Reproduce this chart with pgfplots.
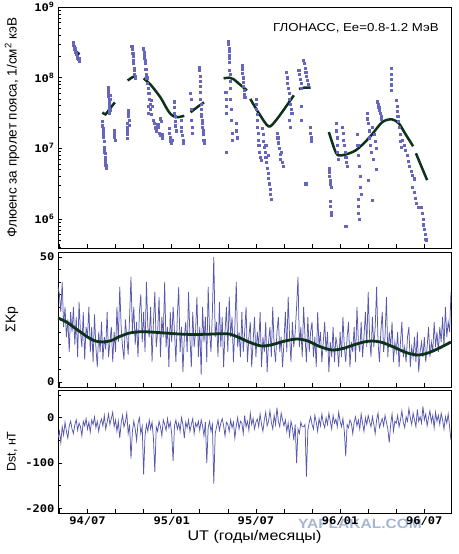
\documentclass[border=0pt]{standalone}
\usepackage{fontspec}
\setmainfont{Liberation Sans}
\newfontfamily\hfont[FakeStretch=1.15]{Liberation Sans}
\newfontfamily\tickfont[FakeStretch=1.15]{DejaVu Sans Mono}
\usepackage{pgfplots}
\usepackage{pgfplotstable}
\pgfplotsset{compat=1.18}

\definecolor{pts}{RGB}{102,102,190}
\definecolor{noisy}{RGB}{88,88,175}
\definecolor{fit}{RGB}{12,50,26}
\definecolor{wm}{RGB}{165,182,212}

% month index counted from 1994/01 (6 = 94/07, 12 = 95/01, ...)
% ΣKp and Dst, read every ~3 days
\pgfplotstableread{
m kp dst
3.9 38 -45
4.0 35 -30
4.1 28 -55
4.2 40 -20
4.3 22 -38
4.4 30 -10
4.5 18 -30
4.6 25 -45
4.7 12 -18
4.8 28 -8
4.9 20 -25
5.0 30 -35
5.1 15 -15
5.2 26 -5
5.3 10 -28
5.4 32 -12
5.5 20 -20
5.6 14 -40
5.7 28 -8
5.8 9 -18
5.9 22 -2
6.0 18 -25
6.1 30 -10
6.2 12 -32
6.3 22 -5
6.4 8 -15
6.5 27 2
6.6 14 -22
6.7 6 -8
6.8 20 -30
6.9 12 -12
7.0 24 -3
7.1 9 -18
7.2 18 5
7.3 13 -25
7.4 28 -10
7.5 10 8
7.6 16 -15
7.7 22 -2
7.8 8 12
7.9 20 -20
8.0 12 -5
8.1 30 -30
8.2 16 -8
8.3 38 -45
8.4 22 -12
8.5 14 5
8.6 9 -20
8.7 25 -10
8.8 18 10
8.9 11 -35
9.0 26 -15
9.1 42 -90
9.2 20 -30
9.3 30 -8
9.4 15 -25
9.5 24 -50
9.6 10 -12
9.7 28 0
9.8 35 -35
9.9 16 -20
10.0 28 -125
10.1 12 -40
10.2 40 -15
10.3 22 -30
10.4 18 -5
10.5 30 -25
10.6 8 -10
10.7 24 -45
10.8 36 -120
10.9 14 -20
11.0 20 -30
11.1 34 -8
11.2 10 -20
11.3 26 -40
11.4 18 -5
11.5 40 -15
11.6 14 -28
11.7 22 -2
11.8 6 -22
11.9 28 -10
12.0 16 -35
12.1 30 -95
12.2 20 -18
12.3 8 -5
12.4 26 -25
12.5 38 -12
12.6 12 -30
12.7 22 0
12.8 4 -15
12.9 18 -45
13.0 24 -10
13.1 12 -22
13.2 36 -5
13.3 18 -30
13.4 6 -15
13.5 28 -2
13.6 14 -35
13.7 20 -12
13.8 34 -20
13.9 10 -8
14.0 22 -28
14.1 3 -5
14.2 30 -18
14.3 16 -40
14.4 26 -10
14.5 8 -100
14.6 38 -22
14.7 20 -8
14.8 12 -30
14.9 28 -15
15.0 50 -145
15.1 18 -35
15.2 24 -20
15.3 10 -5
15.4 32 -28
15.5 14 -12
15.6 26 -2
15.7 6 -18
15.8 20 -40
15.9 30 -10
16.0 12 -15
16.1 34 -30
16.2 18 -5
16.3 26 -22
16.4 8 -10
16.5 22 -45
16.6 40 -18
16.7 14 0
16.8 20 -25
16.9 10 -8
17.0 28 -12
17.1 12 -35
17.2 20 5
17.3 30 -20
17.4 8 -8
17.5 18 -28
17.6 24 10
17.7 6 -15
17.8 16 -2
17.9 26 -25
18.0 10 -10
18.1 20 -3
18.2 14 -20
18.3 28 8
18.4 6 -15
18.5 18 -30
18.6 12 -5
18.7 24 12
18.8 4 -18
18.9 16 -8
19.0 22 15
19.1 10 -10
19.2 30 -25
19.3 14 5
19.4 8 -15
19.5 20 22
19.6 26 -8
19.7 12 -20
19.8 18 10
19.9 6 -5
20.0 16 -18
20.1 28 -5
20.2 12 -30
20.3 34 -12
20.4 18 -40
20.5 8 -8
20.6 24 -22
20.7 14 -50
20.8 20 -15
20.9 30 -100
21.0 42 -25
21.1 14 -35
21.2 22 -10
21.3 10 -20
21.4 30 -20
21.5 18 -15
21.6 8 -130
21.7 26 -28
21.8 12 -10
21.9 20 2
22.0 24 -15
22.1 10 -25
22.2 18 5
22.3 6 -10
22.4 28 -30
22.5 14 -2
22.6 20 -18
22.7 8 8
22.8 16 -12
22.9 24 -22
23.0 12 0
23.1 20 -15
23.2 4 10
23.3 16 -8
23.4 10 -25
23.5 22 5
23.6 8 -12
23.7 18 -3
23.8 14 -20
23.9 6 12
24.0 20 -8
24.1 10 -20
24.2 26 -2
24.3 14 -30
24.4 8 -85
24.5 18 -15
24.6 24 -22
24.7 6 -5
24.8 16 -12
24.9 12 -35
25.0 22 -10
25.1 8 2
25.2 30 -18
25.3 16 -5
25.4 12 -25
25.5 24 8
25.6 10 -12
25.7 18 -30
25.8 28 0
25.9 14 -15
26.0 36 5
26.1 18 -8
26.2 10 -20
26.3 26 2
26.4 14 -15
26.5 22 -35
26.6 38 -5
26.7 16 10
26.8 8 -22
26.9 20 -12
27.0 28 -2
27.1 12 -18
27.2 18 5
27.3 34 -10
27.4 10 -25
27.5 20 -55
27.6 14 -15
27.7 24 8
27.8 8 -30
27.9 16 -8
28.0 12 -12
28.1 20 5
28.2 6 -20
28.3 16 -5
28.4 24 15
28.5 10 -10
28.6 14 -22
28.7 8 2
28.8 18 -8
28.9 22 20
29.0 6 0
29.1 14 -15
29.2 10 10
29.3 18 -5
29.4 8 -20
29.5 20 18
29.6 4 -8
29.7 12 2
29.8 16 -12
29.9 10 25
30.0 18 -5
30.1 8 8
30.2 14 -18
30.3 22 0
30.4 10 15
30.5 16 -10
30.6 12 5
30.7 24 -22
30.8 14 12
30.9 20 -8
31.0 12 5
31.1 22 -15
31.2 16 10
31.3 26 -5
31.4 14 -25
31.5 30 2
31.6 18 -12
31.7 24 8
31.8 20 -20
31.9 36 -50
}\geo

% fluence per pass, lg = log10(value)
\pgfplotstableread{
m lg
5.00 8.50
5.00 8.46
5.05 8.44
5.07 8.41
5.10 8.42
5.12 8.38
5.15 8.36
5.18 8.34
5.22 8.33
5.25 8.31
5.30 8.28
5.33 8.26
5.38 8.24
5.40 8.28
7.07 7.38
7.07 7.32
7.10 7.28
7.10 7.24
7.12 7.20
7.14 7.16
7.17 7.10
7.20 7.02
7.22 6.98
7.24 6.93
7.25 6.88
7.27 6.84
7.28 6.80
7.30 6.76
7.32 6.72
7.20 6.95
7.45 7.86
7.47 7.82
7.48 7.78
7.50 7.74
7.52 7.70
7.52 7.66
7.55 7.62
7.57 7.58
7.60 7.75
7.62 7.70
7.58 7.54
7.55 7.50
7.88 7.25
7.90 7.20
7.92 7.16
7.95 7.12
8.80 7.35
8.82 7.30
8.83 7.25
8.85 7.20
8.85 7.14
8.88 7.45
8.90 7.50
8.92 7.54
8.95 7.40
8.97 7.33
9.15 8.45
9.17 8.42
9.20 8.40
9.22 8.35
9.25 8.30
9.25 8.25
9.28 8.20
9.30 8.14
9.32 8.10
9.35 8.05
9.38 8.02
9.40 8.00
10.00 8.41
10.02 8.36
10.05 8.32
10.07 8.28
10.10 8.24
10.12 8.20
10.15 8.12
10.18 8.05
10.22 8.00
10.28 7.92
10.32 7.85
10.36 7.78
10.40 7.70
10.45 7.62
10.50 7.55
10.55 7.48
10.30 7.60
10.35 7.50
10.55 7.68
10.60 7.60
10.70 7.40
10.75 7.35
10.80 7.30
10.85 7.28
10.90 7.25
11.00 7.34
11.05 7.30
11.10 7.22
11.20 7.18
11.30 7.15
11.35 7.20
11.15 7.42
11.25 7.38
11.80 7.28
11.85 7.22
11.88 7.15
11.92 7.10
11.95 7.07
12.00 7.12
12.15 7.66
12.18 7.58
12.20 7.50
12.23 7.45
12.25 7.38
12.28 7.32
12.30 7.25
12.65 7.40
12.68 7.30
12.70 7.24
12.75 7.18
12.80 7.12
12.85 7.08
13.35 7.78
13.38 7.70
13.40 7.55
13.42 7.40
13.45 7.30
13.48 7.22
13.95 8.15
13.97 8.10
14.00 8.02
14.00 7.95
14.02 7.88
14.05 7.80
14.05 7.70
14.08 7.62
14.10 7.55
14.12 7.48
14.15 7.40
14.18 7.35
14.20 7.30
14.22 7.25
14.25 7.20
14.28 7.12
14.30 7.07
14.10 7.45
15.85 7.80
15.87 7.70
15.88 7.60
15.90 7.50
15.90 6.95
16.05 8.52
16.05 8.47
16.07 8.42
16.07 8.37
16.10 8.32
16.10 8.27
16.12 8.22
16.12 8.10
16.15 8.05
16.15 7.95
16.18 7.85
16.20 7.70
16.22 7.55
16.25 7.40
16.28 7.22
16.30 7.11
16.60 7.35
16.62 7.25
16.64 7.15
17.00 8.17
17.02 8.12
17.05 8.06
17.08 8.00
17.10 7.94
17.12 7.88
17.15 7.82
17.18 7.76
17.20 7.72
18.00 7.70
18.03 7.62
18.05 7.55
18.08 7.48
18.10 7.40
18.12 7.30
18.15 7.22
18.18 7.12
18.20 7.05
18.25 6.95
18.30 6.88
18.35 6.83
18.45 7.28
18.50 7.20
18.55 7.10
18.60 7.02
18.65 6.95
18.70 6.88
18.75 6.80
18.80 6.72
18.85 6.65
18.90 6.58
18.95 6.50
19.00 6.42
19.05 6.35
19.10 6.28
18.70 7.05
18.90 6.90
19.50 7.22
19.55 7.15
19.60 7.08
19.65 7.00
19.70 6.92
19.75 6.85
19.80 6.95
19.85 6.80
19.95 6.75
20.15 8.08
20.20 8.00
20.25 7.92
20.30 7.85
20.35 7.78
20.40 7.70
20.45 7.62
20.50 7.55
20.55 7.50
20.40 7.40
20.45 7.30
21.05 8.10
21.10 8.05
21.15 7.98
21.20 7.92
21.25 7.85
21.40 8.25
21.45 8.20
21.50 8.14
21.55 8.08
21.60 8.02
21.65 7.96
21.70 7.90
21.20 7.60
21.25 7.40
21.55 6.50
21.90 7.30
21.90 7.22
21.92 7.15
21.92 7.10
23.20 6.72
23.22 6.66
23.25 6.60
23.28 6.55
23.30 6.50
23.35 6.45
23.25 6.68
23.30 6.25
23.32 6.18
23.35 6.10
23.38 6.05
23.72 7.35
23.75 7.25
23.78 7.15
23.80 7.05
23.82 6.95
23.85 6.85
24.15 7.30
24.20 7.22
24.25 7.12
24.30 7.05
24.35 6.95
24.40 6.88
24.45 6.80
24.50 6.75
24.40 5.90
25.20 7.20
25.25 7.05
25.30 6.90
25.35 6.75
25.40 6.60
25.45 6.45
25.50 6.35
25.28 6.28
25.30 6.18
25.32 6.08
25.35 6.00
25.90 7.50
25.95 7.42
26.00 7.35
26.05 7.25
26.10 7.15
26.15 7.05
26.20 6.95
26.30 7.30
26.40 7.20
26.50 7.10
26.60 7.00
26.35 6.85
26.55 6.70
26.00 6.55
26.30 6.27
26.65 7.66
26.70 7.62
26.75 7.58
26.80 7.54
26.85 7.50
26.90 7.45
26.95 7.42
27.62 8.13
27.63 8.05
27.64 7.98
27.65 7.90
27.66 7.82
28.00 7.68
28.05 7.60
28.08 7.52
28.10 7.45
28.15 7.38
28.20 7.30
28.25 7.20
28.30 7.10
28.35 7.02
28.45 7.11
28.55 7.05
28.65 6.98
28.75 6.90
28.85 6.82
28.95 6.75
29.05 6.68
29.15 6.62
29.25 6.57
29.15 6.45
29.25 6.38
29.35 6.30
29.45 6.22
29.55 6.17
29.80 6.17
29.85 6.08
29.90 6.00
29.95 5.92
30.00 5.85
30.05 5.78
30.10 5.72
30.15 5.70
}\flu

\pgfplotsset{
  panel/.style={
    scale only axis, width=393pt,
    xmin=3.9, xmax=31.9,
    xtick={4,6,...,30}, xticklabels={},
    tick align=inside, xtick pos=bottom, ytick pos=left,
    major tick length=4pt, minor tick length=2.5pt,
    axis line style={line width=0.8pt},
    every tick/.style={black, line width=0.6pt},
    ticklabel style={font=\tickfont\bfseries\fontsize{10.5}{12}\selectfont},
    every axis y label/.style={at={(axis description cs:-0.117,0.5)}, rotate=90, anchor=center},
  },
}

\begin{document}
\begin{tikzpicture}
\useasboundingbox (0,0) rectangle (458pt,554pt);

% watermark, under the axes as in the source image
\node[font=\hfont\bfseries\fontsize{13.5}{15}\selectfont, text=wm] at (360pt,30pt) {YAPLAKAL.COM};

% fluence
\begin{axis}[panel, at={(58pt,306pt)}, anchor=south west, height=241pt,
  ymin=5.59, ymax=9,
  ytick={6,7,8,9},
  yticklabels={10\textsuperscript{6},10\textsuperscript{7},10\textsuperscript{8},10\textsuperscript{9}},
  minor ytick={5.602,5.699,5.778,5.845,5.903,5.954,
    6.301,6.477,6.602,6.699,6.778,6.845,6.903,6.954,
    7.301,7.477,7.602,7.699,7.778,7.845,7.903,7.954,
    8.301,8.477,8.602,8.699,8.778,8.845,8.903,8.954},
  ylabel={\fontsize{13.5}{15}\selectfont Флюенс за пролет пояса, 1/см\textsuperscript{2} кэВ},
]
\addplot[only marks, mark=square*, mark size=1.05pt, color=pts] table[x=m, y=lg] {\flu};
\addplot[fit, line width=2.5pt, smooth] coordinates {(5.07,8.38)(5.25,8.36)(5.43,8.33)};
\addplot[fit, line width=2.5pt, smooth] coordinates {(7.07,7.51)(7.28,7.48)(7.55,7.55)(7.95,7.65)};
\addplot[fit, line width=2.5pt, smooth] coordinates {(8.86,7.96)(9.15,8.00)(9.43,8.03)};
\addplot[fit, line width=2.5pt, smooth] coordinates {(10.0,7.99)(10.5,7.90)(11.2,7.72)(11.6,7.58)(11.9,7.49)(12.3,7.44)(12.9,7.46)};
\addplot[fit, line width=2.5pt, smooth] coordinates {(13.35,7.51)(13.8,7.58)(14.3,7.65)};
\addplot[fit, line width=2.5pt, smooth] coordinates {(15.7,7.99)(16.1,8.0)(16.4,7.98)(16.7,7.93)(17.0,7.88)(17.36,7.82)};
\addplot[fit, line width=2.5pt, smooth] coordinates {(17.6,7.70)(18.2,7.50)(18.9,7.31)(19.4,7.39)(20.0,7.55)(20.7,7.75)};
\addplot[fit, line width=2.5pt, smooth] coordinates {(21.07,7.84)(21.5,7.86)(21.9,7.86)};
\addplot[fit, line width=2.5pt, smooth] coordinates {(23.2,7.23)(23.7,6.94)(24.1,6.90)(25.1,6.97)(26.07,7.15)(27.0,7.37)(27.7,7.41)(28.2,7.35)(28.6,7.22)(29.2,7.03)};
\addplot[fit, line width=2.5pt, smooth] coordinates {(29.4,6.93)(29.8,6.74)(30.2,6.55)};
\node[anchor=base east, inner sep=0pt, font=\hfont\fontsize{11.5}{13}\selectfont]
  at (rel axis cs:0.969,0.900) {ГЛОНАСС, Ee=0.8-1.2 МэВ};
\end{axis}

% sum Kp
\begin{axis}[panel, at={(58pt,167pt)}, anchor=south west, height=135pt,
  ymin=-2, ymax=52, ytick={0,50}, yticklabels={0,50},
  minor ytick={5,10,...,45},
  ylabel={\fontsize{14}{16}\selectfont ΣKp},
]
\addplot[noisy, line width=0.75pt] table[x=m, y=kp] {\geo};
\addplot[fit, line width=2.8pt, smooth] coordinates {(3.9,25.6)(4.5,24)(5,22)(5.5,20)(6,18)(6.5,16.5)(7.1,16)(7.7,16.6)(8.3,18.2)(9,19.6)(9.8,20.1)(10.5,20)(11.5,19.6)(12.5,19.2)(13.5,19)(14.5,19.1)(15.5,19.3)(16.1,19.2)(16.8,17.8)(17.5,16)(18.4,14.4)(19.2,15)(20,16.3)(20.9,17.2)(21.7,16.4)(22.5,14.3)(23.4,12.8)(24.2,13.4)(25,14.9)(25.7,16)(26.3,16.4)(27,15.8)(27.8,14)(28.7,11.8)(29.5,10.8)(30.2,11.5)(31,13.4)(31.9,16)};
\end{axis}

% Dst
\begin{axis}[panel, at={(58pt,41pt)}, anchor=south west, height=123pt,
  ymin=-210, ymax=61, ytick={-200,-100,0}, yticklabels={-200,-100,0},
  minor ytick={-150,-50,50},
  xticklabels={,94/07,,,95/01,,,95/07,,,96/01,,,96/07},
  ylabel={\fontsize{12.5}{14}\selectfont Dst, нТ},
  xlabel={\hfont\fontsize{14}{16}\selectfont UT (годы/месяцы)},
  xlabel style={yshift=2pt},
]
\addplot[noisy, line width=0.75pt] table[x=m, y=dst] {\geo};
\end{axis}
\end{tikzpicture}
\end{document}
